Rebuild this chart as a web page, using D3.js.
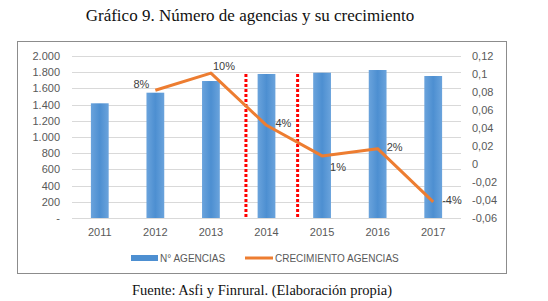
<!DOCTYPE html>
<html lang="es">
<head>
<meta charset="UTF-8">
<title>Gráfico 9</title>
<script src="https://d3js.org/d3.v7.min.js"></script>
<style>
  body { margin: 0; padding: 0; background: #fff; }
  svg { display: block; }
  .tick text { font-family: "Liberation Sans", Arial, sans-serif; font-size: 11px; fill: #595959; }
</style>
</head>
<body>
<svg id="chart" width="548" height="301"></svg>
<script>
// data
const years = ["2011", "2012", "2013", "2014", "2015", "2016", "2017"];
const agencias = [1416, 1547, 1691, 1778, 1794, 1827, 1753];
const crecimiento = [null, 0.082, 0.101, 0.043, 0.009, 0.017, -0.042];
const crecLabels = [null, "8%", "10%", "4%", "1%", "2%", "-4%"];
const leftTicks = [0, 200, 400, 600, 800, 1000, 1200, 1400, 1600, 1800, 2000];
const rightTicks = [-0.06, -0.04, -0.02, 0, 0.02, 0.04, 0.06, 0.08, 0.1, 0.12];
// red dotted markers, in category units (between 2013/2014 and 2014/2015)
const markers = [3.13, 4.06];

const svg = d3.select("#chart");
const plot = { left: 72, right: 461, top: 56, bottom: 218 };

// title
svg.append("text")
  .attr("x", 250).attr("y", 21)
  .attr("text-anchor", "middle")
  .style("font-family", "'Liberation Serif', 'Times New Roman', serif")
  .style("font-size", "17px")
  .attr("fill", "#111")
  .text("Gráfico 9. Número de agencias y su crecimiento");

// chart frame
svg.append("rect")
  .attr("x", 17.5).attr("y", 41.5).attr("width", 489).attr("height", 232)
  .attr("fill", "none").attr("stroke", "#8c8c8c").attr("stroke-width", 1);

const x = d3.scaleBand().domain(years).range([plot.left, plot.right]).paddingInner(0.68).paddingOuter(0.34);
const xPos = d3.scaleLinear().domain([0, years.length]).range([plot.left, plot.right]);
const yL = d3.scaleLinear().domain([0, 2000]).range([plot.bottom, plot.top]);
const yR = d3.scaleLinear().domain([-0.06, 0.12]).range([plot.bottom, plot.top]);

// gridlines
svg.append("g")
  .selectAll("line").data(leftTicks).join("line")
  .attr("x1", plot.left).attr("x2", plot.right)
  .attr("y1", d => Math.round(yL(d)) + 0.5).attr("y2", d => Math.round(yL(d)) + 0.5)
  .attr("stroke", "#d9d9d9").attr("stroke-width", 1);

// bar gradient
const defs = svg.append("defs");
const grad = defs.append("linearGradient").attr("id", "barGrad")
  .attr("x1", "0").attr("x2", "1").attr("y1", "0").attr("y2", "0");
grad.append("stop").attr("offset", "0%").attr("stop-color", "#6aa3dc");
grad.append("stop").attr("offset", "50%").attr("stop-color", "#4d8fd1");
grad.append("stop").attr("offset", "100%").attr("stop-color", "#6aa3dc");

// bars
svg.append("g")
  .selectAll("rect").data(agencias).join("rect")
  .attr("x", (d, i) => x(years[i]))
  .attr("width", x.bandwidth())
  .attr("y", d => yL(d))
  .attr("height", d => plot.bottom - yL(d))
  .attr("fill", "url(#barGrad)");

// red dotted markers
svg.append("g")
  .selectAll("line").data(markers).join("line")
  .attr("x1", d => xPos(d)).attr("x2", d => xPos(d))
  .attr("y1", yR(0.1)).attr("y2", plot.bottom)
  .attr("stroke", "#ff0000").attr("stroke-width", 3)
  .attr("stroke-dasharray", "3,2");

// growth line
const pts = crecimiento.map((v, i) => ({ v, i })).filter(d => d.v !== null);
const line = d3.line()
  .x(d => x(years[d.i]) + x.bandwidth() / 2)
  .y(d => yR(d.v));
svg.append("path")
  .datum(pts)
  .attr("fill", "none")
  .attr("stroke", "#ed7d31")
  .attr("stroke-width", 3)
  .attr("stroke-linejoin", "round")
  .attr("d", line);

// data labels
svg.append("g")
  .selectAll("text").data(pts).join("text")
  .attr("x", d => {
    const cx = x(years[d.i]) + x.bandwidth() / 2;
    if (d.i === 1) return cx - 6;
    if (d.i === 2) return cx + 13;
    if (d.i === 4) return cx + 16;
    return cx + 9;
  })
  .attr("y", d => {
    const cy = yR(d.v);
    if (d.i === 1) return cy - 2;
    if (d.i === 2) return cy - 3;
    if (d.i === 4) return cy + 15;
    return cy + 2;
  })
  .attr("text-anchor", d => d.i === 1 ? "end" : (d.i === 2 || d.i === 4) ? "middle" : "start")
  .style("font-family", "'Liberation Sans', Arial, sans-serif")
  .style("font-size", "11px")
  .attr("fill", "#404040")
  .text(d => crecLabels[d.i]);

// axes
const fmtL = d => d === 0 ? "-" : d3.format(",")(d).replace(/,/g, ".");
const fmtR = d => String(+d.toFixed(2)).replace(".", ",");

svg.append("g")
  .attr("transform", `translate(${plot.left - 12},0)`)
  .call(d3.axisLeft(yL).tickValues(leftTicks).tickFormat(fmtL).tickSize(0).tickPadding(0))
  .call(g => g.select(".domain").remove());

svg.append("g")
  .attr("transform", `translate(${plot.right + 11},0)`)
  .call(d3.axisRight(yR).tickValues(rightTicks).tickFormat(fmtR).tickSize(0).tickPadding(0))
  .call(g => g.select(".domain").remove());

svg.append("g")
  .attr("transform", `translate(0,${plot.bottom + 10})`)
  .call(d3.axisBottom(x).tickSize(0).tickPadding(0))
  .call(g => g.select(".domain").remove());

// baseline
svg.append("line")
  .attr("x1", plot.left).attr("x2", plot.right)
  .attr("y1", plot.bottom + 0.5).attr("y2", plot.bottom + 0.5)
  .attr("stroke", "#d9d9d9");

// legend
const legend = svg.append("g").attr("transform", "translate(0,258)");
const legendFont = "'Liberation Sans', Arial, sans-serif";
legend.append("rect").attr("x", 131).attr("y", -3).attr("width", 27).attr("height", 6).attr("fill", "#4d8fd1");
legend.append("text").attr("x", 160).attr("y", 4)
  .style("font-family", legendFont).style("font-size", "10px")
  .attr("fill", "#595959").text("N° AGENCIAS");
legend.append("line").attr("x1", 245).attr("x2", 273).attr("y1", 0).attr("y2", 0)
  .attr("stroke", "#ed7d31").attr("stroke-width", 3);
legend.append("text").attr("x", 275).attr("y", 4)
  .style("font-family", legendFont).style("font-size", "10px")
  .attr("fill", "#595959").text("CRECIMIENTO AGENCIAS");

// source note
svg.append("text")
  .attr("x", 262).attr("y", 295)
  .attr("text-anchor", "middle")
  .style("font-family", "'Liberation Serif', 'Times New Roman', serif")
  .style("font-size", "14.5px")
  .attr("fill", "#111")
  .text("Fuente: Asfi y Finrural. (Elaboración propia)");
</script>
</body>
</html>
